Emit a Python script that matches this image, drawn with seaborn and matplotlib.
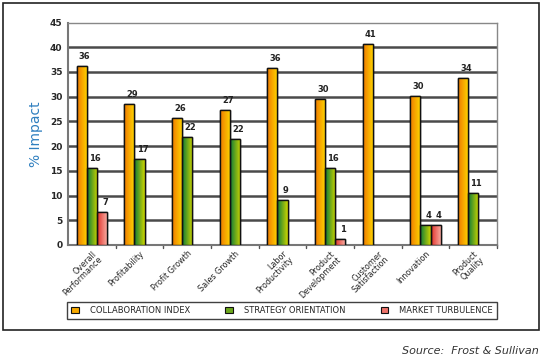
import numpy as np
import pandas as pd
import matplotlib
matplotlib.use("Agg")
import matplotlib.pyplot as plt
from matplotlib.patches import Rectangle
from matplotlib.colors import LinearSegmentedColormap
import seaborn as sns

# values (bar heights, % impact)
categories = ["Overall\nPerformance", "Profitability", "Profit Growth", "Sales Growth",
              "Labor\nProductivity", "Product\nDevelopment", "Customer\nSatisfaction",
              "Innovation", "Product\nQuality"]
collaboration = [36.2, 28.6, 25.7, 27.3, 35.8, 29.6, 40.6, 30.1, 33.8]
strategy = [15.6, 17.4, 21.9, 21.5, 9.2, 15.6, np.nan, 4.1, 10.6]
turbulence = [6.6, np.nan, np.nan, np.nan, np.nan, 1.2, np.nan, 4.1, np.nan]
series_names = ["COLLABORATION INDEX", "STRATEGY ORIENTATION", "MARKET TURBULENCE"]

df = pd.DataFrame({
    "Category": categories * 3,
    "Series": [s for s in series_names for _ in categories],
    "Value": collaboration + strategy + turbulence,
})

# left -> right gradient colours per series
grad = {
    "COLLABORATION INDEX": ("#ef7a00", "#ffd800"),
    "STRATEGY ORIENTATION": ("#0b7a38", "#cfd600"),
    "MARKET TURBULENCE": ("#e2322a", "#fab4aa"),
}
solid = {k: v[0] for k, v in grad.items()}

sns.set_style("white")
fig = plt.figure(figsize=(5.43, 3.56), dpi=100)
W, H = 543, 356
ax = fig.add_axes([68 / W, 1 - 245 / H, (497 - 68) / W, (245 - 22.5) / H])

sns.barplot(data=df, x="Category", y="Value", hue="Series", hue_order=series_names,
            palette=solid, width=0.64, gap=0, edgecolor="#111111", linewidth=1.0,
            legend=False, ax=ax, zorder=3)


def gradient_fill(target, x0, y0, w, h, cmap):
    img = target.imshow(np.linspace(0, 1, 64).reshape(1, -1), cmap=cmap, aspect="auto",
                        extent=[x0, x0 + w, y0, y0 + h], zorder=3.5, interpolation="bilinear")
    return img


# gradient fill on every bar, clipped to the bar rectangle
for container, name in zip(ax.containers, series_names):
    cmap = LinearSegmentedColormap.from_list(name, grad[name])
    for bar in container:
        h = bar.get_height()
        if not np.isfinite(h) or h <= 0:
            continue
        x0, w = bar.get_x(), bar.get_width()
        img = gradient_fill(ax, x0, 0, w, h, cmap)
        img.set_clip_path(bar)
        ax.add_patch(Rectangle((x0, 0), w, h, fill=False, edgecolor="#111111",
                               linewidth=1.0, zorder=4))
        ax.text(x0 + w * 0.8, h + 1.0, f"{round(h):d}", ha="center", va="bottom",
                fontsize=6, fontweight="bold", color="#222222", zorder=5)

ax.set_xlim(-0.5, len(categories) - 0.5)
ax.set_ylim(0, 45)
ax.set_yticks(range(0, 46, 5))
ax.tick_params(axis="y", labelsize=6.5, length=3, width=1, color="#777777", pad=1)
for t in ax.get_yticklabels():
    t.set_fontweight("bold")
for y in range(5, 45, 5):
    ax.axhline(y, color="#4a4a4a", linewidth=1.8, zorder=1)

ax.set_xticks(np.arange(len(categories)))
ax.set_xticklabels(categories, rotation=45, ha="right", va="top", fontsize=5.8,
                   rotation_mode="anchor", linespacing=0.9)
ax.tick_params(axis="x", length=0, pad=3)
for x in np.arange(0.5, len(categories), 1.0):
    ax.plot([x, x], [0, -0.7], color="#555555", linewidth=1, clip_on=False, zorder=2)

for side in ["left", "bottom"]:
    ax.spines[side].set_color("#777777")
    ax.spines[side].set_linewidth(1.5)
for side in ["top", "right"]:
    ax.spines[side].set_color("#888888")
    ax.spines[side].set_linewidth(1.0)

ax.set_xlabel("")
ax.set_ylabel("% Impact", color="#2f7fbf", fontsize=10, labelpad=5)

# legend
handles = [Rectangle((0, 0), 1, 1, facecolor=solid[n], edgecolor="#111111", linewidth=0.8)
           for n in series_names]
leg = fig.legend(handles, series_names, loc="lower left", ncol=3, mode="expand",
                 bbox_to_anchor=(67 / W, 1 - 319 / H, (497 - 67) / W, 19 / H),
                 fontsize=6, frameon=True, fancybox=False, borderaxespad=0,
                 handlelength=0.9, handleheight=0.9, handletextpad=1.3, borderpad=0.5)
leg.get_frame().set_edgecolor("#111111")
leg.get_frame().set_linewidth(1.0)
leg._legend_box.align = "left"
for patch, name in zip(leg.get_patches(), series_names):
    patch.set_facecolor(LinearSegmentedColormap.from_list(name, grad[name])(0.5))

# outer frame
fig.patches.append(Rectangle((3 / W, 1 - 330 / H), 536 / W, 327 / H, transform=fig.transFigure,
                             fill=False, edgecolor="#222222", linewidth=1.2))

fig.text(539 / W, 1 - 351 / H, "Source:  Frost & Sullivan", ha="right", va="center",
         fontsize=8, style="italic", color="#333333")

fig.savefig("out.png", dpi=100)
